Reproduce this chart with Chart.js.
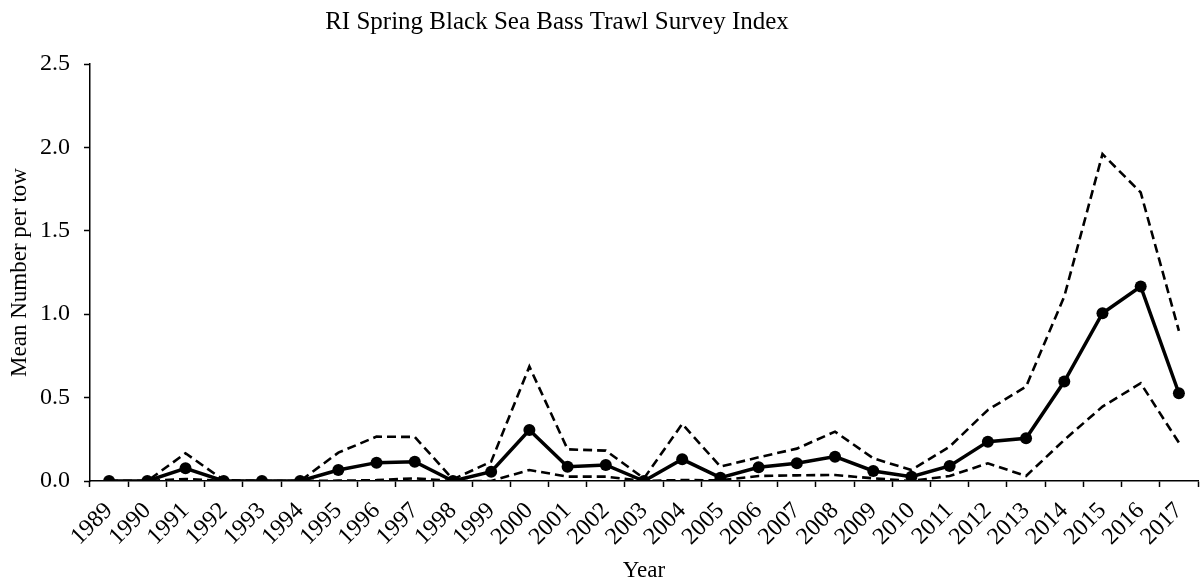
<!DOCTYPE html>
<html>
<head>
<meta charset="utf-8">
<script src="https://cdn.jsdelivr.net/npm/chart.js@4/dist/chart.umd.min.js"></script>
<style>
  html, body { margin: 0; padding: 0; background: #fff; }
  #wrap { width: 1204px; height: 586px; }
</style>
</head>
<body>
<div id="wrap"><canvas id="myChart" width="1204" height="586"></canvas></div>
<script>
// survey years
const years = [
    '1989', '1990', '1991', '1992', '1993', '1994', '1995', '1996', '1997', '1998',
    '1999', '2000', '2001', '2002', '2003', '2004', '2005', '2006', '2007', '2008',
    '2009', '2010', '2011', '2012', '2013', '2014', '2015', '2016', '2017'
];

// mean number per tow
const meanIndex = [
    0, 0, 0.076, 0, 0, 0, 0.066, 0.11, 0.116, 0,
    0.056, 0.306, 0.086, 0.096, 0, 0.13, 0.02, 0.082, 0.106, 0.146,
    0.06, 0.026, 0.09, 0.236, 0.256, 0.596, 1.006, 1.166, 0.526
];

// upper / lower confidence bounds
const upperCI = [
    0, 0, 0.166, 0.005, 0, 0, 0.17, 0.266, 0.264, 0.01,
    0.116, 0.686, 0.19, 0.182, 0.016, 0.342, 0.086, 0.142, 0.194, 0.296,
    0.136, 0.066, 0.206, 0.426, 0.566, 1.106, 1.96, 1.73, 0.9
];

const lowerCI = [
    0, 0, 0.012, 0, 0, 0, 0.002, 0.005, 0.016, 0,
    0, 0.066, 0.026, 0.026, 0, 0.006, 0.004, 0.03, 0.034, 0.036,
    0.016, 0, 0.03, 0.106, 0.03, 0.246, 0.446, 0.586, 0.23
];

const yTicks = [0, 0.5, 1.0, 1.5, 2.0, 2.5];

const chartTitle = 'RI Spring Black Sea Bass Trawl Survey Index';

const serif = "'Liberation Serif', 'Times New Roman', serif";

// title sits a bit left of centre in the original, so draw it by hand
const titlePlugin = {
    id: 'offsetTitle',
    afterDraw: function (chart) {
        const c = chart.ctx;
        c.save();
        c.fillStyle = '#000';
        c.font = '25px ' + serif;
        c.textAlign = 'center';
        c.textBaseline = 'middle';
        c.fillText(chartTitle, 557, 22);
        c.restore();
    }
};

function loadChart()
{
    const ctx = document.getElementById('myChart');
    const myChart = new Chart(ctx, {
        type: 'line',
        data: {
            labels: years,
            datasets: [{
                label: 'Mean',
                data: meanIndex,
                borderColor: '#000',
                backgroundColor: '#000',
                borderWidth: 3.5,
                pointRadius: 6,
                pointHoverRadius: 6,
                pointBorderWidth: 0,
                tension: 0,
                order: 0
            }, {
                label: 'Upper',
                data: upperCI,
                borderColor: '#000',
                borderWidth: 2.6,
                borderDash: [9, 5],
                pointRadius: 0,
                tension: 0,
                order: 1
            }, {
                label: 'Lower',
                data: lowerCI,
                borderColor: '#000',
                borderWidth: 2.6,
                borderDash: [9, 5],
                pointRadius: 0,
                tension: 0,
                order: 2
            }]
        },
        options: {
            responsive: false,
            animation: false,
            layout: {
                padding: { left: 0, right: 4, top: 64, bottom: 0 }
            },
            plugins: {
                legend: { display: false },
                tooltip: { enabled: false },
                title: { display: false }
            },
            scales: {
                x: {
                    offset: true,
                    grid: {
                        offset: true,
                        drawOnChartArea: false,
                        drawTicks: true,
                        tickLength: 6,
                        tickColor: '#000',
                        tickWidth: 1.5
                    },
                    border: { color: '#000', width: 1.5 },
                    ticks: {
                        color: '#000',
                        font: { family: serif, size: 24 },
                        minRotation: 45,
                        maxRotation: 45,
                        autoSkip: false,
                        padding: 10
                    },
                    title: {
                        display: true,
                        text: 'Year',
                        color: '#000',
                        font: { family: serif, size: 23 },
                        padding: { top: 0, bottom: 1 }
                    },
                    afterFit: function (scale) {
                        scale.height = 105;
                        scale.paddingLeft = 0;
                        scale.paddingRight = 0;
                    }
                },
                y: {
                    min: 0,
                    max: 2.5,
                    afterBuildTicks: function (scale) {
                        scale.ticks = yTicks.map(v => ({ value: v }));
                    },
                    grid: {
                        drawOnChartArea: false,
                        drawTicks: true,
                        tickLength: 6,
                        tickColor: '#000',
                        tickWidth: 1.5
                    },
                    border: { color: '#000', width: 1.5 },
                    ticks: {
                        color: '#000',
                        font: { family: serif, size: 24 },
                        padding: 14,
                        callback: function (v) { return Number(v).toFixed(1); }
                    },
                    title: {
                        display: true,
                        text: 'Mean Number per tow',
                        color: '#000',
                        font: { family: serif, size: 23 },
                        padding: { top: 6, bottom: 0 }
                    },
                    afterFit: function (scale) { scale.width = 90; }
                }
            }
        },
        plugins: [titlePlugin]
    });
}

loadChart();
</script>
</body>
</html>
